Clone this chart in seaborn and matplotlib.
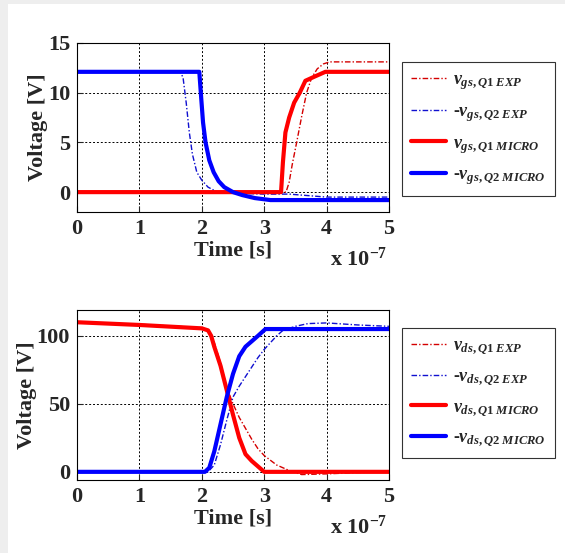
import matplotlib
matplotlib.use("Agg")
import matplotlib.pyplot as plt
import numpy as np
import pandas as pd
import seaborn as sns
from matplotlib.patches import Rectangle

# time axis in units of 1e-7 s
# --- gate-source voltages (top panel) ---
vgs_q1_exp_t = [0, 3.35, 3.40, 3.45, 3.52, 3.60, 3.68, 3.76, 3.85, 3.95, 4.05, 4.20, 5.00]
vgs_q1_exp_v = [0, 0, 1.0, 2.8, 5.0, 7.6, 10.0, 11.5, 12.4, 12.9, 13.1, 13.1, 13.1]

vgs_q2_exp_t = [0, 1.65, 1.70, 1.75, 1.80, 1.85, 1.92, 2.00, 2.10, 2.25, 2.50, 3.00, 3.40, 4.00, 5.00]
vgs_q2_exp_v = [12.2, 12.2, 11.5, 9.0, 6.0, 3.8, 2.0, 1.2, 0.5, 0.0, -0.1, -0.2, -0.2, -0.5, -0.5]

vgs_q1_mic_t = [0, 3.27, 3.30, 3.34, 3.40, 3.48, 3.57, 3.66, 3.80, 3.98, 5.00]
vgs_q1_mic_v = [0, 0, 3.0, 6.0, 7.5, 9.0, 10.0, 11.2, 11.6, 12.1, 12.1]

vgs_q2_mic_t = [0, 1.96, 1.99, 2.02, 2.06, 2.12, 2.19, 2.27, 2.36, 2.50, 2.65, 2.85, 3.10, 5.00]
vgs_q2_mic_v = [12.1, 12.1, 9.5, 7.0, 5.0, 3.2, 2.0, 1.1, 0.5, 0.0, -0.3, -0.6, -0.8, -0.8]

# --- drain-source voltages (bottom panel) ---
vds_q1_exp_t = [0, 1.0, 2.0, 2.1, 2.2, 2.3, 2.4, 2.5, 2.6, 2.7, 2.8, 2.9, 3.0, 3.2, 3.4, 3.6, 4.0, 4.5, 5.0]
vds_q1_exp_v = [110, 108.5, 106, 104, 95, 80, 62, 50, 40, 32, 24, 17, 12, 5, 1, -2, -1.5, -0.5, 0]

vds_q2_exp_t = [0, 2.1, 2.2, 2.3, 2.4, 2.5, 2.6, 2.7, 2.8, 2.9, 3.0, 3.1, 3.2, 3.3, 3.5, 3.7, 4.0, 4.5, 5.0]
vds_q2_exp_v = [0, 0, 5, 20, 38, 55, 63, 70, 77, 84, 90, 95, 100, 104, 107, 109, 109.5, 108, 107]

vds_q1_mic_t = [0, 1.0, 2.0, 2.1, 2.15, 2.2, 2.3, 2.4, 2.5, 2.6, 2.7, 2.8, 2.9, 3.0, 5.0]
vds_q1_mic_v = [110, 108, 105.5, 104, 100, 92, 78, 60, 42, 25, 13, 8, 4, 0, 0]

vds_q2_mic_t = [0, 2.05, 2.12, 2.2, 2.3, 2.4, 2.5, 2.6, 2.7, 2.8, 2.9, 3.02, 5.0]
vds_q2_mic_v = [0, 0, 3, 15, 35, 55, 72, 85, 92, 96, 100, 105, 105]

x_ticks = [0, 1, 2, 3, 4, 5]

sns.set_style("ticks")
plt.rcParams["font.family"] = ["Liberation Serif", "DejaVu Serif"]
plt.rcParams["font.weight"] = "bold"
plt.rcParams["mathtext.fontset"] = "custom"
plt.rcParams["mathtext.rm"] = "Liberation Serif:bold"
plt.rcParams["mathtext.it"] = "Liberation Serif:italic:bold"
plt.rcParams["mathtext.bf"] = "Liberation Serif:bold"

DASHDOT = (0, (4, 1.5, 1, 1.5))
FS = 16


def draw_panel(ax, series, ylim, yticks):
    """series: list of (t, v, color, style, lw, label)"""
    for t, v, color, ls, lw, label in series:
        df = pd.DataFrame({"t": t, "v": v})
        sns.lineplot(data=df, x="t", y="v", ax=ax, color=color, lw=lw,
                     label=label, sort=False)
        ax.lines[-1].set_linestyle(ls)
    ax.set_xlim(0, 5)
    ax.set_ylim(*ylim)
    ax.set_xticks(x_ticks)
    ax.set_yticks(yticks)
    ax.grid(True, color="black", linestyle=(0, (2, 2)), linewidth=0.7)
    ax.tick_params(direction="in", length=4, width=0.8, labelsize=FS, pad=5)
    for lab in ax.get_xticklabels() + ax.get_yticklabels():
        lab.set_fontweight("bold")
    for s in ax.spines.values():
        s.set_color("black")
        s.set_linewidth(0.8)
    ax.set_xlabel("Time [s]", fontsize=FS, fontweight="bold", labelpad=1)
    ax.set_ylabel("Voltage [V]", fontsize=FS, fontweight="bold", labelpad=0)
    ax.text(0.995, -0.28, r"x 10$^{-7}$", transform=ax.transAxes, ha="right",
            va="center", fontsize=FS, fontweight="bold")
    ax.get_legend().remove()


fig = plt.figure(figsize=(5.65, 5.53), dpi=100)
fig.patch.set_facecolor("white")
fig.add_artist(Rectangle((0, 0), 8 / 565, 1, transform=fig.transFigure,
                         facecolor="#eeeeee", edgecolor="none"))
fig.add_artist(Rectangle((0, 1 - 4 / 553), 1, 4 / 553, transform=fig.transFigure,
                         facecolor="#eeeeee", edgecolor="none"))

ax1 = fig.add_axes([77 / 565, 1 - 212 / 553, 312 / 565, 169 / 553])
ax2 = fig.add_axes([77 / 565, 1 - 480 / 553, 312 / 565, 170 / 553])

top = [
    (vgs_q1_exp_t, vgs_q1_exp_v, "#d40000", DASHDOT, 1.0, r"$v_{\mathit{gs,Q1\ EXP}}$"),
    (vgs_q2_exp_t, vgs_q2_exp_v, "#1010d0", DASHDOT, 1.0, r"-$v_{\mathit{gs,Q2\ EXP}}$"),
    (vgs_q1_mic_t, vgs_q1_mic_v, "#ff0000", "-", 3.0, r"$v_{\mathit{gs,Q1\ MICRO}}$"),
    (vgs_q2_mic_t, vgs_q2_mic_v, "#0000ff", "-", 3.0, r"-$v_{\mathit{gs,Q2\ MICRO}}$"),
]
bottom = [
    (vds_q1_exp_t, vds_q1_exp_v, "#d40000", DASHDOT, 1.0, r"$v_{\mathit{ds,Q1\ EXP}}$"),
    (vds_q2_exp_t, vds_q2_exp_v, "#1010d0", DASHDOT, 1.0, r"-$v_{\mathit{ds,Q2\ EXP}}$"),
    (vds_q1_mic_t, vds_q1_mic_v, "#ff0000", "-", 3.0, r"$v_{\mathit{ds,Q1\ MICRO}}$"),
    (vds_q2_mic_t, vds_q2_mic_v, "#0000ff", "-", 3.0, r"-$v_{\mathit{ds,Q2\ MICRO}}$"),
]

draw_panel(ax1, top, (-2, 15), [0, 5, 10, 15])
draw_panel(ax2, bottom, (-6, 119), [0, 50, 100])

for ax, y_top in ((ax1, 62), (ax2, 328)):
    h, l = ax.get_legend_handles_labels()
    leg = fig.legend(h, l, loc="upper left", bbox_to_anchor=(402 / 565, 1 - y_top / 553),
                     bbox_transform=fig.transFigure, fontsize=13, frameon=True,
                     fancybox=False, edgecolor="black", handlelength=1.95,
                     handletextpad=0.4, labelspacing=0.62, borderaxespad=0,
                     borderpad=0.5)
    leg.get_frame().set_linewidth(0.8)

fig.savefig("out.png", dpi=100)
